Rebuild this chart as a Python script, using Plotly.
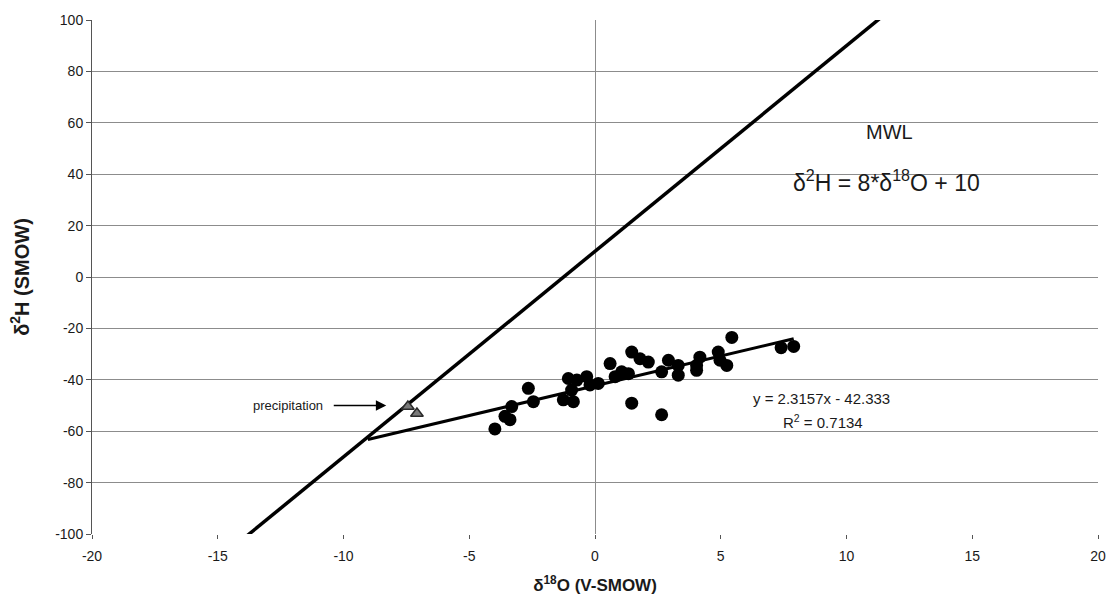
import plotly.graph_objects as go

# Groundwater samples: delta-18O and delta-2H (permil)
sample_d18o = [-3.98, -3.58, -3.31, -3.38, -2.65, -2.45, -1.26, -1.06, -0.86, -0.72,
               -0.93, -0.33, 0.13, -0.20, 0.60, 0.80, 1.06, 1.33, 1.46, 1.79,
               2.12, 1.46, 2.65, 2.65, 2.92, 3.31, 3.31, 4.04, 4.17, 4.04,
               4.90, 4.97, 5.24, 5.44, 7.40, 7.90]
sample_d2h = [-59.1, -54.2, -50.4, -55.5, -43.3, -48.5, -47.8, -39.5, -48.5, -40.1,
              -44.0, -38.8, -41.4, -42.0, -33.7, -38.8, -36.9, -37.6, -29.2, -31.8,
              -33.1, -49.1, -53.6, -36.9, -32.4, -34.4, -38.2, -34.4, -31.2, -36.3,
              -29.2, -32.4, -34.4, -23.5, -27.5, -27.0]

# Precipitation samples
precip_d18o = [-7.44, -7.08]
precip_d2h = [-50.4, -53.1]

# Meteoric water line: d2H = 8*d18O + 10
mwl_slope, mwl_intercept = 8.0, 10.0
mwl_x = [-20.0, 20.0]

# Linear trend of the samples
fit_slope, fit_intercept = 2.3157, -42.333
fit_x = [-9.03, 7.9]

x_ticks = [-20, -15, -10, -5, 0, 5, 10, 15, 20]
y_ticks = [-100, -80, -60, -40, -20, 0, 20, 40, 60, 80, 100]

FONT = "Arial, Liberation Sans, Helvetica, sans-serif"
GRID = "#8c8c8c"
TEXT = "#1a1a1a"

fig = go.Figure()

fig.add_trace(go.Scatter(
    x=mwl_x, y=[mwl_slope * v + mwl_intercept for v in mwl_x],
    mode="lines", line=dict(color="black", width=3.5), showlegend=False,
))
fig.add_trace(go.Scatter(
    x=fit_x, y=[fit_slope * v + fit_intercept for v in fit_x],
    mode="lines", line=dict(color="black", width=3), showlegend=False,
))
fig.add_trace(go.Scatter(
    x=sample_d18o, y=sample_d2h, mode="markers",
    marker=dict(color="black", size=13, line=dict(width=0)), showlegend=False,
))
fig.add_trace(go.Scatter(
    x=precip_d18o, y=precip_d2h, mode="markers",
    marker=dict(symbol="triangle-up", color="#7a7a7a", size=11,
                line=dict(color="#2a2a2a", width=1.5)),
    showlegend=False,
))

fig.add_annotation(x=11.7, y=56.5, text="MWL", showarrow=False,
                   font=dict(family=FONT, size=20, color=TEXT))
fig.add_annotation(x=11.6, y=37.5, text="δ<sup>2</sup>H = 8*δ<sup>18</sup>O + 10",
                   showarrow=False, font=dict(family=FONT, size=23, color=TEXT))
fig.add_annotation(x=9.0, y=-47.3, text="y = 2.3157x - 42.333",
                   showarrow=False, font=dict(family=FONT, size=15, color=TEXT))
fig.add_annotation(x=9.05, y=-56.2, text="R<sup>2</sup> = 0.7134",
                   showarrow=False, font=dict(family=FONT, size=15, color=TEXT))

# Arrow pointing at the precipitation samples
fig.add_annotation(x=-8.3, y=-50.0, ax=-54, ay=0, axref="pixel", ayref="pixel",
                   text="", showarrow=True, arrowhead=2, arrowsize=1.6,
                   arrowwidth=1.3, arrowcolor="black")
fig.add_annotation(x=-10.75, y=-50.0, text="precipitation", xanchor="right",
                   showarrow=False, font=dict(family=FONT, size=13, color=TEXT))

fig.update_xaxes(
    range=[-20, 20], tickvals=x_ticks, ticktext=[str(v) for v in x_ticks],
    showgrid=False, zeroline=True, zerolinecolor=GRID, zerolinewidth=1,
    showline=False, ticks="outside", ticklen=4, tickcolor="#555555",
    ticklabelstandoff=5,
    tickfont=dict(family=FONT, size=14, color=TEXT),
    title=dict(text="<b>δ<sup>18</sup>O (V-SMOW)</b>", standoff=16,
               font=dict(family=FONT, size=17, color=TEXT)),
)
fig.update_yaxes(
    range=[-100, 100], tickvals=y_ticks, ticktext=[str(v) for v in y_ticks],
    showgrid=True, gridcolor=GRID, gridwidth=1,
    zeroline=False, showline=True, linecolor="#555555", linewidth=1,
    ticks="outside", ticklen=5, tickcolor="#555555",
    tickfont=dict(family=FONT, size=14, color=TEXT),
    title=dict(text="<b>δ<sup>2</sup>H (SMOW)</b>", standoff=20,
               font=dict(family=FONT, size=20, color=TEXT)),
)

fig.update_layout(
    width=1119, height=613,
    margin=dict(l=92, r=21, t=14, b=79),
    paper_bgcolor="white", plot_bgcolor="white",
    showlegend=False,
)

fig.write_html("out.html")
